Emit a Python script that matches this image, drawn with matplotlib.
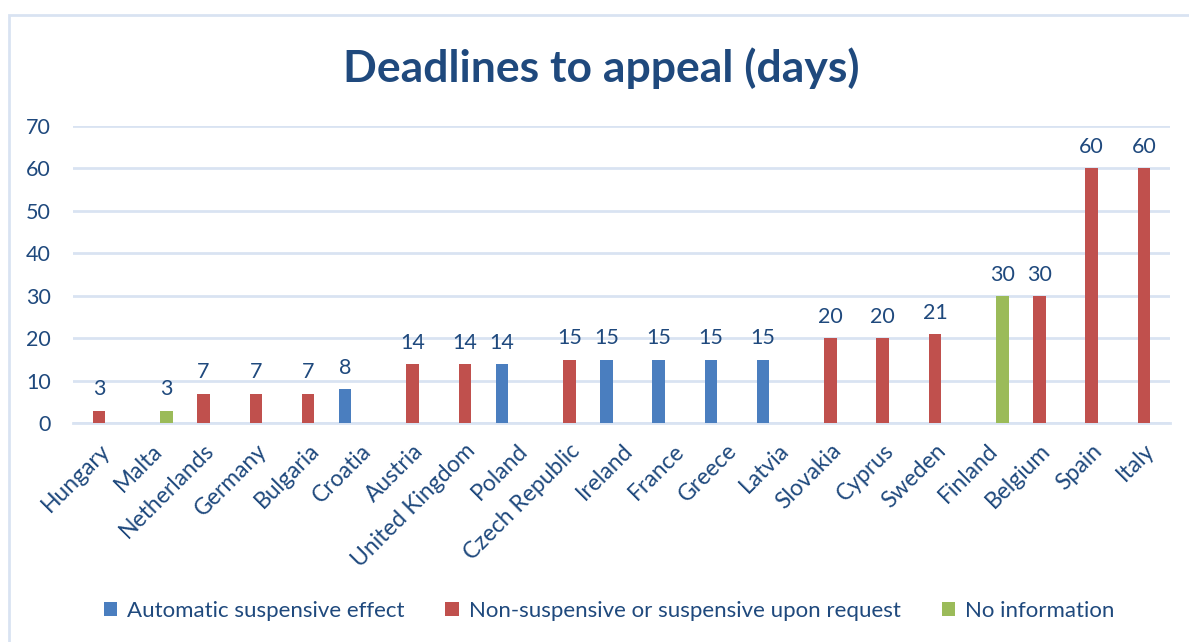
import numpy as np
import matplotlib
matplotlib.use("Agg")
import matplotlib.pyplot as plt
from matplotlib.patches import Rectangle

# data
countries = ["Hungary", "Malta", "Netherlands", "Germany", "Bulgaria", "Croatia",
             "Austria", "United Kingdom", "Poland", "Czech Republic", "Ireland",
             "France", "Greece", "Latvia", "Slovakia", "Cyprus", "Sweden",
             "Finland", "Belgium", "Spain", "Italy"]
automatic = [0, 0, 0, 0, 0, 8, 0, 0, 14, 0, 15, 15, 15, 15, 0, 0, 0, 0, 0, 0, 0]
non_susp = [3, 0, 7, 7, 7, 0, 14, 14, 0, 15, 0, 0, 0, 0, 20, 20, 21, 0, 30, 60, 60]
no_info = [0, 3, 0, 0, 0, 0, 0, 0, 0, 0, 0, 0, 0, 0, 0, 0, 0, 30, 0, 0, 0]
series_names = ["Automatic suspensive effect",
                "Non-suspensive or suspensive upon request",
                "No information"]

plt.rcParams["font.family"] = ["Lato", "DejaVu Sans"]
TXT = "#1F497D"
GRID = "#D9E3F2"
colors = ["#4A7EBF", "#C0504D", "#9BBB59"]

W, H = 1189, 642
fig = plt.figure(figsize=(W / 100, H / 100), dpi=100)

# outer chart border (only top/left visible in the crop)
fig.patches.append(Rectangle((9 / W, -0.1), 1.2, 1 - 15 / H + 0.1,
                             transform=fig.transFigure, fill=False,
                             edgecolor=GRID, linewidth=2))

ax = fig.add_axes([73 / W, (H - 423.3) / H, (1170 - 73) / W, (423.3 - 126) / H])

x = np.arange(len(countries))
offsets = [-0.29, 0.0, 0.29]
width = 0.24
for vals, off, col, name in zip([automatic, non_susp, no_info], offsets, colors, series_names):
    bars = ax.bar(x + off, vals, width=width, color=col, label=name, zorder=3)
    for b, v in zip(bars, vals):
        if v > 0:
            ax.annotate(str(v), (b.get_x() + b.get_width() / 2, v),
                        xytext=(0, 8), textcoords="offset points",
                        ha="center", va="bottom", fontsize=15.5, color=TXT)

ax.set_xlim(-0.5, len(countries) - 0.5)
ax.set_ylim(0, 70)
ax.set_yticks(range(0, 71, 10))
ax.yaxis.grid(True, color=GRID, linewidth=2, zorder=0)
ax.set_axisbelow(True)
for s in ["top", "right", "left"]:
    ax.spines[s].set_visible(False)
ax.spines["bottom"].set_color(GRID)
ax.spines["bottom"].set_linewidth(2)
ax.tick_params(length=0, labelsize=15.5, labelcolor=TXT)
ax.tick_params(axis="y", pad=16)
ax.set_xticks(x)
ax.set_xticklabels(countries, rotation=45, ha="right", rotation_mode="anchor",
                   fontsize=16.5)
ax.tick_params(axis="x", pad=12)

fig.text(601 / W, 1 - 68 / H, "Deadlines to appeal (days)", ha="center", va="center",
         fontsize=32, fontweight="bold", color=TXT)

fig.legend(loc="center", bbox_to_anchor=(609 / W, 1 - 611 / H), ncol=3,
           frameon=False, fontsize=16, labelcolor=TXT, handlelength=0.6,
           handleheight=0.6, handletextpad=0.45, columnspacing=1.85)

fig.savefig("out.png", dpi=100)
